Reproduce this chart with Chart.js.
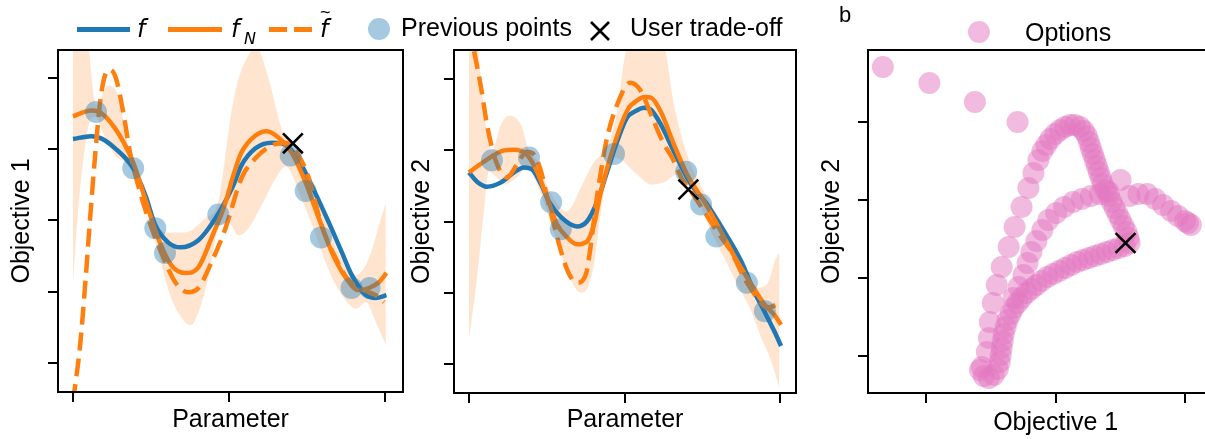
<!DOCTYPE html>
<html>
<head>
<meta charset="utf-8">
<title>Objectives</title>
<script src="https://cdn.jsdelivr.net/npm/chart.js@4.4.1/dist/chart.umd.min.js"></script>
<style>
  html, body { margin: 0; padding: 0; background: #fff; }
  body { position: relative; width: 1205px; height: 439px; overflow: hidden; font-family: "Liberation Sans", Arial, sans-serif; color: #000; }
  canvas { position: absolute; top: 0; }
  .txt { position: absolute; font-size: 25px; line-height: 25px; white-space: nowrap; }
  .math { position: absolute; font-family: "DejaVu Sans", sans-serif; font-style: italic; white-space: nowrap; }
  .swatch { position: absolute; top: 27px; height: 5px; }
  .dot { position: absolute; width: 22px; height: 22px; border-radius: 50%; }
</style>
</head>
<body>
<canvas id="paramObj1" width="420" height="439" style="left:0px;width:420px;height:439px"></canvas>
<canvas id="paramObj2" width="420" height="439" style="left:400px;width:420px;height:439px"></canvas>
<canvas id="objSpace" width="450" height="439" style="left:810px;width:450px;height:439px"></canvas>

<!-- legend shared by the two parameter panels -->
<div class="swatch" style="left:77px;width:53px;background:#1f77b4"></div>
<span class="math" style="left:137px;top:17px;font-size:24px;line-height:24px">f</span>
<div class="swatch" style="left:168px;width:54px;background:#ff7f0e"></div>
<span class="math" style="left:231px;top:17px;font-size:24px;line-height:24px">f</span>
<span class="math" style="left:244px;top:31px;font-size:16px;line-height:16px">N</span>
<div class="swatch" style="left:269px;width:18px;background:#ff7f0e"></div>
<div class="swatch" style="left:294px;width:18px;background:#ff7f0e"></div>
<span class="math" style="left:320px;top:17px;font-size:24px;line-height:24px">f</span>
<span style="position:absolute;left:320px;top:3px;font-size:18px;line-height:18px">~</span>
<div class="dot" style="left:368px;top:18px;background:rgba(31,119,180,0.4)"></div>
<span class="txt" style="left:401px;top:15px">Previous points</span>
<svg style="position:absolute;left:589px;top:20px" width="22" height="22"><path d="M2 2L20 20M20 2L2 20" stroke="#000" stroke-width="2.6" fill="none"/></svg>
<span class="txt" style="left:630px;top:15px">User trade-off</span>

<!-- panel b -->
<span class="txt" style="left:839px;top:4px;font-size:22px;line-height:22px">b</span>
<div class="dot" style="left:968px;top:21px;background:rgba(227,119,194,0.5)"></div>
<span class="txt" style="left:1025px;top:20px">Options</span>

<script>
// tick positions (no labels are drawn)
const paramTicks = [0, 50, 100];
const objTicks = [-2, -1, 0, 1, 2];
const optObj1Ticks = [1, 2, 3];
const optObj2Ticks = [0, 1, 2, 3];

// evaluated parameters, shared by both objectives
const prevParam = [7.4, 19.3, 26.4, 29.5, 46.6, 69.8, 74.6, 79.5, 89.3, 95.1];
const prevObj1 = [1.52, 0.73, -0.11, -0.46, 0.08, 0.91, 0.41, -0.24, -0.95, -0.95];
const prevObj2 = [0.86, 0.90, 0.27, -0.11, 0.95, 0.70, 0.24, -0.21, -0.86, -1.26];

// the trade-off picked by the user
const tradeParam = [70.5];
const tradeObj1 = [1.08];
const tradeObj2 = [0.45];

// objective 1: true function f
const o1fX = [0, 5.8, 9.0, 13.5, 19.3, 23.2, 26.4, 30.5, 34.4, 40.2, 45.7, 51.4, 54.0, 58.5, 63.7, 66.9, 71.4, 76.5, 82.0, 86.2, 89.4, 93.9, 97.1, 100.5];
const o1fY = [1.14, 1.18, 1.15, 1.01, 0.73, 0.35, -0.07, -0.31, -0.38, -0.28, 0.03, 0.49, 0.77, 1.01, 1.09, 1.08, 0.91, 0.49, -0.03, -0.45, -0.77, -1.05, -1.09, -1.05];
// objective 1: model mean f_N
const o1nX = [0, 5.8, 8.0, 13.5, 19.3, 23.5, 27.3, 31.5, 36.0, 40.2, 44.4, 48.9, 51.4, 54.0, 58.5, 62.1, 65.9, 70.1, 74.6, 78.8, 83.0, 87.5, 91.6, 94.9, 98.1, 100.5];
const o1nY = [1.46, 1.54, 1.53, 1.29, 0.81, 0.25, -0.25, -0.63, -0.74, -0.66, -0.25, 0.25, 0.63, 0.95, 1.19, 1.25, 1.16, 0.95, 0.53, 0.03, -0.45, -0.81, -0.98, -0.95, -0.87, -0.74];
// objective 1: sample f~
const o1sX = [0, 2.3, 3.9, 5.5, 7.1, 8.7, 10.3, 11.9, 13.8, 16.1, 18.3, 20.9, 24.1, 28.3, 32.8, 37.0, 40.2, 44.4, 48.9, 54.0, 58.5, 63.7, 68.2, 72.3, 75.6, 79.7, 84.2, 87.8, 91.6, 94.9, 97.1, 99.7];
const o1sY = [-2.55, -1.75, -0.91, 0.03, 0.91, 1.66, 2.04, 2.11, 1.99, 1.52, 0.95, 0.49, 0.03, -0.45, -0.87, -1.01, -0.95, -0.59, -0.11, 0.59, 0.87, 1.05, 1.09, 0.91, 0.59, -0.07, -0.53, -0.81, -0.95, -1.01, -1.05, -1.15];
// objective 1: confidence band
const o1hiX = [0, 4.5, 7.4, 11.3, 14.5, 17.7, 20.9, 25.1, 29.6, 36.0, 42.4, 46.6, 48.5, 50.8, 53.1, 56.3, 58.5, 62.7, 66.9, 70.1, 74.6, 79.7, 85.2, 90.7, 94.9, 98.1, 100.3];
const o1hiY = [3.2, 2.6, 1.62, 1.89, 1.75, 1.05, 0.67, 0.11, -0.17, -0.17, 0.03, 0.25, 0.8, 1.52, 1.99, 2.32, 2.45, 1.99, 1.29, 1.05, 0.75, 0.2, -0.45, -0.77, -0.53, -0.07, 0.25];
const o1loX = [0, 1.6, 3.9, 5.8, 7.4, 9.0, 13.5, 16.7, 19.3, 23.2, 27.3, 31.5, 36.0, 37.9, 40.2, 43.4, 46.6, 49.8, 53.1, 56.3, 60.5, 65.0, 68.2, 73.3, 77.8, 82.0, 86.2, 90.7, 93.9, 97.1, 100.3];
const o1loY = [-0.88, 0.11, 1.05, 1.43, 1.45, 1.29, 0.91, 0.81, 0.67, 0.21, -0.45, -1.09, -1.43, -1.47, -1.29, -0.81, -0.1, -0.03, -0.21, -0.11, 0.21, 0.59, 0.75, 0.3, -0.2, -0.7, -1.05, -1.24, -1.15, -1.43, -1.75];

// objective 2: f, f_N, f~ and band
const o2fX = [0, 2.6, 5.8, 10.3, 14.5, 17.7, 20.3, 23.2, 25.7, 29.6, 34.7, 37.9, 41.2, 44.4, 47.6, 50.8, 53.1, 56.3, 58.5, 61.7, 65.9, 71.4, 76.5, 82.0, 87.5, 91.6, 94.9, 98.1, 100.3];
const o2fY = [0.69, 0.56, 0.49, 0.55, 0.69, 0.76, 0.73, 0.52, 0.28, 0.06, -0.07, 0.00, 0.28, 0.70, 1.12, 1.46, 1.54, 1.60, 1.57, 1.36, 0.98, 0.52, 0.24, -0.14, -0.56, -0.98, -1.26, -1.54, -1.75];
const o2nX = [0, 5.8, 11.3, 14.5, 18.6, 21.9, 25.1, 28.3, 31.5, 34.7, 37.9, 40.2, 42.4, 45.7, 48.9, 51.4, 53.1, 56.3, 58.5, 61.7, 65.9, 70.1, 75.6, 81.0, 86.2, 90.7, 94.9, 98.1, 100.3];
const o2nY = [0.69, 0.87, 1.00, 1.01, 0.94, 0.70, 0.34, -0.04, -0.22, -0.32, -0.28, -0.04, 0.42, 0.94, 1.36, 1.60, 1.67, 1.75, 1.74, 1.54, 1.08, 0.66, 0.28, -0.14, -0.56, -0.88, -1.16, -1.31, -1.45];
const o2sX = [0, 3.9, 5.8, 8.0, 10.3, 12.2, 15.4, 18.6, 20.9, 23.2, 25.1, 27.3, 29.6, 32.2, 34.7, 37.6, 39.2, 40.8, 42.4, 44.4, 47.6, 51.8, 55.0, 59.2, 62.4, 65.6, 68.2, 71.4, 75.6, 79.7, 84.2, 88.4, 92.6, 95.8, 100.3];
const o2sY = [2.75, 1.88, 1.36, 0.94, 0.69, 0.62, 0.80, 0.98, 0.94, 0.70, 0.34, -0.04, -0.42, -0.74, -0.86, -0.74, -0.32, 0.24, 0.70, 1.18, 1.64, 1.95, 1.85, 1.43, 1.11, 0.87, 0.62, 0.42, 0.14, -0.14, -0.42, -0.79, -1.07, -1.21, -1.14];
const o2hiX = [0, 2.5, 5.0, 7.4, 10.3, 12.9, 16.7, 19.3, 22.0, 25.1, 28.3, 31.5, 36.0, 40.2, 44.4, 47.6, 49.8, 52.4, 57.0, 62.7, 65.9, 70.1, 74.6, 79.7, 85.2, 89.4, 92.6, 95.8, 98.7, 100.3];
const o2hiY = [3.2, 2.6, 1.5, 1.0, 1.36, 1.49, 1.36, 1.0, 0.85, 0.5, 0.25, 0.14, 0.48, 0.84, 1.04, 1.54, 2.25, 2.6, 2.9, 2.5, 1.64, 0.94, 0.5, 0.1, -0.3, -0.70, -0.93, -0.88, -0.51, -0.42];
const o2loX = [0, 2.6, 4.8, 6.4, 9.0, 11.3, 15.4, 18.6, 21.9, 25.1, 28.3, 31.5, 36.0, 37.9, 40.2, 42.4, 44.4, 46.6, 48.9, 51.4, 54.0, 58.5, 62.7, 66.9, 69.8, 73.3, 77.8, 82.0, 86.2, 90.7, 93.9, 97.1, 99.7];
const o2loY = [-1.66, -0.79, 0.14, 0.70, 0.62, 0.52, 0.62, 0.76, 0.52, 0.14, -0.28, -0.70, -1.00, -0.95, -0.60, 0.14, 0.62, 0.90, 0.87, 0.77, 0.66, 0.52, 0.55, 0.66, 0.62, 0.34, -0.14, -0.51, -0.88, -1.26, -1.63, -1.96, -2.33];

// panel b: options in objective space (first sparse points, left arc, hump, lower branch, middle branch)
const optionsObj1 = [0.663, 1.023, 1.375, 1.705,
  1.429, 1.467, 1.483, 1.490, 1.513, 1.544, 1.582, 1.636, 1.682, 1.736, 1.789, 1.828, 1.866,
  1.897, 1.927, 1.958, 1.996, 2.034, 2.073, 2.111, 2.149, 2.188, 2.218, 2.241, 2.257, 2.272, 2.287, 2.303, 2.318, 2.333, 2.349, 2.364, 2.387, 2.410, 2.433, 2.456, 2.479, 2.502, 2.525, 2.548, 2.563, 2.571,
  2.533, 2.487, 2.441, 2.395, 2.349, 2.303, 2.257, 2.211, 2.165, 2.119, 2.073, 2.027, 1.981, 1.935, 1.889, 1.851, 1.812, 1.774, 1.736, 1.705, 1.674, 1.651, 1.628, 1.613, 1.598, 1.590, 1.582, 1.575, 1.567, 1.552, 1.521, 1.483, 1.444, 1.414,
  1.674, 1.713, 1.751, 1.782, 1.812, 1.851, 1.897, 1.943, 2.004, 2.065, 2.134, 2.203, 2.272, 2.341, 2.410, 2.502, 2.571, 2.640, 2.709, 2.770, 2.831, 2.893, 2.946, 3.000, 3.023, 3.046];
const optionsObj2 = [3.705, 3.500, 3.256, 3.000,
  -0.141, 0.051, 0.231, 0.436, 0.679, 0.910, 1.141, 1.397, 1.654, 1.910, 2.154, 2.346, 2.513,
  2.628, 2.705, 2.782, 2.846, 2.897, 2.936, 2.962, 2.962, 2.936, 2.885, 2.821, 2.744, 2.667, 2.590, 2.513, 2.436, 2.359, 2.282, 2.205, 2.128, 2.051, 1.974, 1.897, 1.821, 1.744, 1.667, 1.590, 1.513, 1.449,
  1.410, 1.385, 1.359, 1.333, 1.308, 1.282, 1.256, 1.231, 1.205, 1.167, 1.128, 1.090, 1.051, 1.013, 0.962, 0.910, 0.859, 0.808, 0.744, 0.679, 0.615, 0.538, 0.462, 0.372, 0.282, 0.192, 0.103, 0.013, -0.077, -0.167, -0.244, -0.282, -0.256, -0.179,
  0.744, 0.885, 1.038, 1.192, 1.333, 1.474, 1.615, 1.744, 1.833, 1.910, 1.974, 2.013, 2.051, 2.077, 2.103, 2.256, 2.051, 2.077, 2.077, 2.013, 1.936, 1.859, 1.795, 1.731, 1.705, 1.679];
const tradeOptObj1 = [2.540];
const tradeOptObj2 = [1.449];

const BLUE = '#1f77b4';
const ORANGE = '#ff7f0e';
const BAND = 'rgba(255,127,14,0.2)';

Chart.defaults.font.family = '"Liberation Sans", Arial, sans-serif';
Chart.defaults.color = '#000';

function xy(xs, ys) {
  return xs.map((x, i) => ({ x: x, y: ys[i] }));
}

// black box around the plot area
const frame = {
  id: 'frame',
  afterDraw(chart) {
    const { ctx, chartArea: a } = chart;
    ctx.save();
    ctx.strokeStyle = '#000';
    ctx.lineWidth = 2;
    ctx.strokeRect(a.left, a.top, a.right - a.left, a.bottom - a.top);
    ctx.restore();
  }
};

const tickGrid = {
  drawOnChartArea: false,
  drawTicks: true,
  tickLength: 10,
  tickWidth: 2,
  tickColor: '#000',
  color: '#000',
  lineWidth: 2
};

function axis(min, max, ticks, size, title, titlePad, horizontal) {
  return {
    type: 'linear',
    min: min,
    max: max,
    afterBuildTicks: s => { s.ticks = ticks.map(v => ({ value: v })); },
    afterFit: s => { if (horizontal) s.height = size; else s.width = size; },
    ticks: { display: false },
    grid: tickGrid,
    border: { display: false },
    title: {
      display: true,
      text: title,
      color: '#000',
      font: { size: 25, lineHeight: 1.25 },
      padding: horizontal ? { top: 0, bottom: titlePad } : { top: titlePad, bottom: 0 }
    }
  };
}

function options(x, y, padRight) {
  return {
    responsive: false,
    animation: false,
    events: [],
    layout: { padding: { top: 50, right: padRight, left: 0, bottom: 0 } },
    plugins: { legend: { display: false }, tooltip: { enabled: false } },
    scales: { x: x, y: y }
  };
}

function curve(xs, ys, color, dash, order) {
  return {
    data: xy(xs, ys), borderColor: color, borderWidth: 4.5, borderDash: dash,
    borderJoinStyle: 'round', pointRadius: 0, cubicInterpolationMode: 'monotone',
    fill: false, order: order
  };
}

function band(xs, ys, fill, order) {
  return {
    data: xy(xs, ys), borderWidth: 0, borderColor: 'rgba(0,0,0,0)', backgroundColor: BAND,
    pointRadius: 0, cubicInterpolationMode: 'monotone', fill: fill, order: order
  };
}

function prevPoints(ys) {
  return {
    data: xy(prevParam, ys), showLine: false, pointRadius: 11, pointBorderWidth: 0,
    pointBackgroundColor: 'rgba(31,119,180,0.4)', order: 1
  };
}

function tradeMark(xs, ys) {
  return {
    data: xy(xs, ys), showLine: false, pointStyle: 'crossRot', pointRadius: 14,
    pointBorderWidth: 2.6, pointBorderColor: '#000', order: 0
  };
}

new Chart(document.getElementById('paramObj1'), {
  type: 'line',
  data: {
    datasets: [
      tradeMark(tradeParam, tradeObj1),
      prevPoints(prevObj1),
      curve(o1sX, o1sY, ORANGE, [18, 8], 2),
      curve(o1nX, o1nY, ORANGE, [], 3),
      curve(o1fX, o1fY, BLUE, [], 4),
      band(o1hiX, o1hiY, '+1', 5),
      band(o1loX, o1loY, false, 6)
    ]
  },
  options: options(
    axis(-4.8, 105.8, paramTicks, 47, 'Parameter', 3, true),
    axis(-2.41, 2.39, objTicks, 58, 'Objective 1', 6, false),
    17
  ),
  plugins: [frame]
});

new Chart(document.getElementById('paramObj2'), {
  type: 'line',
  data: {
    datasets: [
      tradeMark(tradeParam, tradeObj2),
      prevPoints(prevObj2),
      curve(o2sX, o2sY, ORANGE, [18, 8], 2),
      curve(o2nX, o2nY, ORANGE, [], 3),
      curve(o2fX, o2fY, BLUE, [], 4),
      band(o2hiX, o2hiY, '+1', 5),
      band(o2loX, o2loY, false, 6)
    ]
  },
  options: options(
    axis(-4.8, 105.1, paramTicks, 46, 'Parameter', 3, true),
    axis(-2.41, 2.41, objTicks, 54, 'Objective 2', 6, false),
    24
  ),
  plugins: [frame]
});

new Chart(document.getElementById('objSpace'), {
  type: 'scatter',
  data: {
    datasets: [
      tradeMark(tradeOptObj1, tradeOptObj2),
      {
        data: xy(optionsObj1, optionsObj2), pointRadius: 11, pointBorderWidth: 0,
        pointBackgroundColor: 'rgba(227,119,194,0.5)', order: 1
      }
    ]
  },
  options: options(
    axis(0.548, 3.452, optObj1Ticks, 46, 'Objective 1', 0, true),
    axis(-0.474, 3.923, optObj2Ticks, 58, 'Objective 2', 6, false),
    14
  ),
  plugins: [frame]
});
</script>
</body>
</html>
